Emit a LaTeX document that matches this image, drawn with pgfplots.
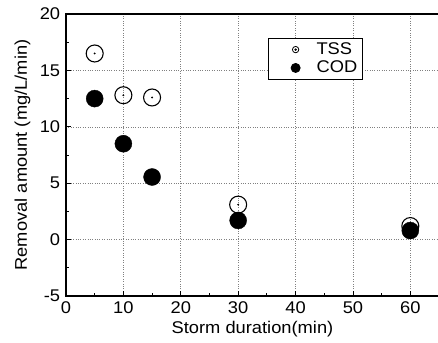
\documentclass[border=0pt]{standalone}
\usepackage{pgfplots}
\pgfplotsset{compat=1.18}
\usepackage{fontspec}
\setmainfont[FakeStretch=1.08]{Liberation Sans}
\begin{document}
\fontsize{17}{20}\selectfont
\begin{tikzpicture}
\begin{axis}[
  name=ax,
  scale only axis,
  width=373bp, height=282bp,
  xmin=0, xmax=65, ymin=-5, ymax=20,
  xtick={0,10,20,30,40,50,60},
  ytick={-5,0,5,10,15,20},
  minor xtick={5,15,25,35,45,55},
  minor ytick={-2.5,2.5,7.5,12.5,17.5},
  tick align=inside,
  xtick pos=bottom, ytick pos=left,
  major tick length=5bp, minor tick length=3bp,
  tick style={black, line width=0.8pt},
  axis line style={line width=1.3pt},
  grid=major,
  major grid style={dotted, gray, line width=0.6pt},
  /pgf/number format/assume math mode=true,
  ticklabel style={font=\fontsize{17}{20}\selectfont},
  label style={font=\fontsize{17}{20}\selectfont},
  xlabel={Storm duration(min)},
  ylabel={Removal amount (mg/L/min)},
  xlabel style={yshift=4bp},
  ylabel style={yshift=-2bp},
  legend style={at={(0.542,0.915)}, anchor=north west, draw=black, line width=0.9pt,
    font=\fontsize{17}{20}\selectfont, inner xsep=3bp, inner ysep=2bp,
    cells={anchor=west}, row sep=0bp},
  legend cell align=left,
]
\addplot[only marks, mark=o, mark size=8.5bp, mark options={line width=1.1pt, fill=white},
  legend image code/.code={
    \path[draw=none, fill=none] (0,-1bp) rectangle (28bp,1bp);
    \draw[line width=0.8pt, fill=white] (24bp,0) circle (3.2bp);
    \fill (24bp,0) circle (0.7bp);
  }] coordinates {(5,16.5) (10,12.8) (15,12.6) (30,3.1) (60,1.2)};
\addlegendentry{\hspace{14bp}TSS}
\addplot[only marks, mark=*, mark size=8.5bp, black,
  legend image code/.code={
    \path[draw=none, fill=none] (0,-1bp) rectangle (28bp,1bp);
    \fill (24bp,0) circle (4.5bp);
  }] coordinates {(5,12.5) (10,8.5) (15,5.55) (30,1.7) (60,0.8)};
\addlegendentry{\hspace{14bp}COD}
\addplot[only marks, mark=*, mark size=0.7bp, black, forget plot]
  coordinates {(5,16.5) (10,12.8) (15,12.6) (30,3.1) (60,1.2)};
\end{axis}
\pgfresetboundingbox
\path ([shift={(-66bp,-46bp)}]ax.south west) rectangle ([shift={(-1bp,14bp)}]ax.north east);
\end{tikzpicture}
\end{document}
